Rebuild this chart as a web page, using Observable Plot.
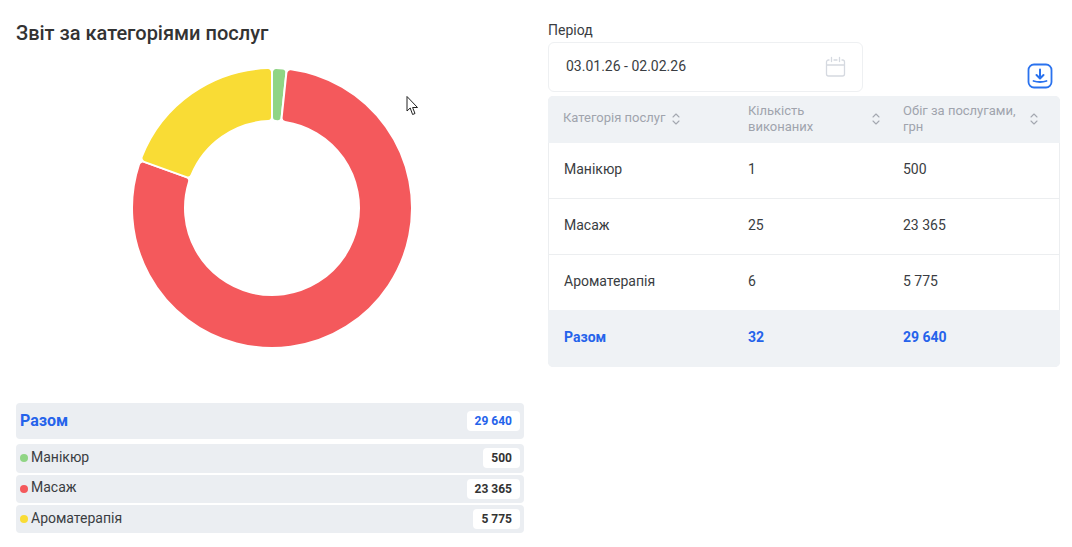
<!DOCTYPE html>
<html lang="uk">
<head>
<meta charset="utf-8">
<script src="https://cdn.jsdelivr.net/npm/d3@7"></script>
<script src="https://cdn.jsdelivr.net/npm/@observablehq/plot@0.6"></script>
<style>
html,body{margin:0;padding:0;background:#fff;width:1072px;height:547px;overflow:hidden;font-family:Roboto,sans-serif;color:#333}
.abs,.abs *{box-sizing:border-box}
.abs{position:absolute}
.bar{position:absolute;left:16px;width:508px;background:#ebeef2;border-radius:4px}
.pill{position:absolute;right:4px;background:#fff;border-radius:4px;font-weight:700;font-size:12px;line-height:20px;height:20px;padding:0 8px;color:#333}
.txt{position:absolute;white-space:nowrap}
.dot{position:absolute;width:8px;height:8px;border-radius:50%}
.rowline{position:absolute;left:548px;width:512px;height:1px;background:#eceef0}
</style>
</head>
<body>
<div id="page"></div>
<script>
const categories = ["Манікюр", "Масаж", "Ароматерапія"];
const serviceCounts = [1, 25, 6];
const turnover = [500, 23365, 5775];
const totalLabel = "Разом";
const totalCount = 32;
const totalTurnover = 29640;
const colors = ["#90d585", "#f4595c", "#f9dc35"];
const headers = ["Категорія послуг", "Кількість<br>виконаних", "Обіг за послугами,<br>грн"];
const chartTitle = "Звіт за категоріями послуг";
const periodLabel = "Період";
const periodValue = "03.01.26 - 02.02.26";

const fmt = v => String(v).replace(/\B(?=(\d{3})+$)/g, " ");
const page = document.getElementById("page");
const add = (html) => page.insertAdjacentHTML("beforeend", html);
const txt = (x, cy, s, style = "") =>
  add(`<div class="txt" style="left:${x}px;top:${cy - 10}px;line-height:20px;${style}">${s}</div>`);

const rows = categories.map((name, i) => ({name, value: turnover[i]}));

// Donut: Plot scales give the centre and the colours, d3.arc draws the slices
const donut = Plot.plot({
  width: 544, height: 330, margin: 0,
  x: {domain: [-1, 1], axis: null},
  y: {domain: [-1, 1], axis: null},
  color: {domain: categories, range: colors},
  marks: [
    Plot.dot(rows, {
      x: () => 0, y: () => 0, fill: "name",
      render(index, scales, values) {
        const g = d3.create("svg:g");
        const pie = d3.pie().sort(null).value(d => d.value)(rows);
        const arc = d3.arc().innerRadius(87).outerRadius(140).cornerRadius(4);
        g.selectAll("path").data(index).join("path")
          .attr("transform", i => `translate(${values.x[i]},${values.y[i]})`)
          .attr("d", i => arc(pie[i]))
          .attr("fill", i => values.fill[i])
          .attr("stroke", "#fff").attr("stroke-width", 2);
        return g.node();
      }
    })
  ]
});
donut.style.position = "absolute";
donut.style.left = "0px";
donut.style.top = "43px";
page.appendChild(donut);

// Title
txt(16, 33, chartTitle, "font-size:20px;font-weight:500;color:#333");

// Legend
add(`<div class="bar" style="top:403px;height:36px"><div class="pill" style="top:8px;color:#2563eb">${fmt(totalTurnover)}</div></div>`);
txt(20, 421, totalLabel, "font-size:16px;font-weight:700;color:#2563eb");
const legendTops = [444, 475, 505], legendH = [29, 28, 28], legendTextCy = [457, 487, 518];
categories.forEach((c, i) => {
  add(`<div class="bar" style="top:${legendTops[i]}px;height:${legendH[i]}px"><div class="pill" style="top:4px">${fmt(turnover[i])}</div></div>`);
  add(`<div class="dot" style="left:20px;top:${legendTops[i] + 10}px;background:${colors[i]}"></div>`);
  txt(31, legendTextCy[i], c, "font-size:14px;color:#3a3d42");
});

// Period field
txt(548, 30, periodLabel, "font-size:14px;color:#3a3d42");
add(`<div class="abs" style="left:548px;top:42px;width:315px;height:50px;border:1px solid #eef0f2;border-radius:6px"></div>`);
txt(566, 65.5, periodValue, "font-size:14px;color:#3a3d42");
add(`<svg class="abs" style="left:825px;top:56px" width="21" height="21" viewBox="0 0 21 21" fill="none" stroke="#d5d9e0" stroke-width="1.3" stroke-linecap="round"><path d="M4 4H3.5A2 2 0 0 0 1.5 6V18A2 2 0 0 0 3.5 20H17.5A2 2 0 0 0 19.5 18V6A2 2 0 0 0 17.5 4H17M9 4H12M6.5 1.5V5.5M14.5 1.5V5.5M1.5 9H19.5"/></svg>`);

// Download button
add(`<svg class="abs" style="left:1027px;top:63px" width="26" height="26" viewBox="0 0 26 26" fill="none" stroke="#2a72ee" stroke-linecap="round" stroke-linejoin="round"><rect x="1.5" y="1.5" width="23" height="23" rx="5.5" stroke-width="1.8"/><path d="M13 6.5V15M9.5 12L13 15.5L16.5 12" stroke-width="2"/><path d="M6.5 18Q13 20 19.5 18" stroke-width="1.8"/></svg>`);

// Table
add(`<div class="abs" style="left:548px;top:96px;width:512px;height:271px;border:1px solid #eceef0;border-radius:5px;background:#fff"></div>`);
add(`<div class="abs" style="left:548px;top:96px;width:512px;height:47px;background:#eff2f5;border-radius:5px 5px 0 0"></div>`);
add(`<div class="abs" style="left:548px;top:310px;width:512px;height:57px;background:#eff2f5;border-radius:0 0 5px 5px"></div>`);
[198, 254].forEach(y => add(`<div class="rowline" style="top:${y}px"></div>`));

const colX = [563, 748, 903];
const sortX = [676, 876, 1034];
headers.forEach((h, i) => {
  add(`<div class="txt" style="left:${colX[i]}px;top:${i ? 103 : 110}px;font-size:13px;line-height:16px;color:#a0a4ad">${h}</div>`);
  add(`<svg class="abs" style="left:${sortX[i] - 5}px;top:112px" width="10" height="14" viewBox="0 0 10 14" fill="none" stroke="#a4a8b0" stroke-width="1.1" stroke-linecap="round" stroke-linejoin="round"><path d="M2 5L5 2L8 5M2 9L5 12L8 9"/></svg>`);
});
const rowCy = [169, 225, 281];
categories.forEach((c, i) => {
  txt(564, rowCy[i], c, "font-size:14px;color:#3a3d42");
  txt(748, rowCy[i], fmt(serviceCounts[i]), "font-size:14px;color:#3a3d42");
  txt(903, rowCy[i], fmt(turnover[i]), "font-size:14px;color:#3a3d42");
});
const bold = "font-size:14px;font-weight:700;color:#2563eb";
txt(564, 337, totalLabel, bold);
txt(748, 337, fmt(totalCount), bold);
txt(903, 337, fmt(totalTurnover), bold);

// Mouse pointer visible in the screenshot
add(`<svg class="abs" style="left:405px;top:95px" width="15" height="22" viewBox="0 0 15 22"><path d="M2 1.5V16L5.2 13L7.6 19.5L10 18.5L7.6 12.5H12.5Z" fill="#fff" stroke="#222" stroke-width="1"/></svg>`);
</script>
</body>
</html>
